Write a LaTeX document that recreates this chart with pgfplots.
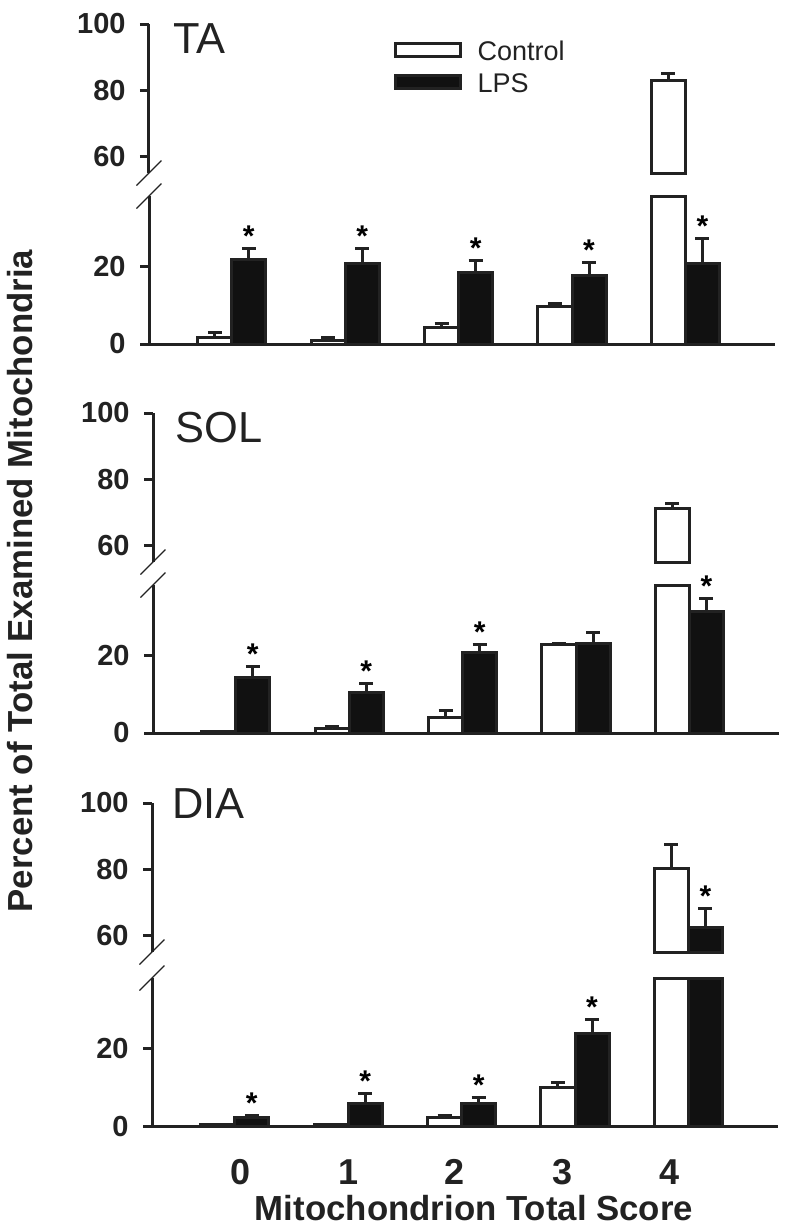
\documentclass[border=0pt]{standalone}
\usepackage{fontspec}
\setmainfont{Liberation Sans}
\usepackage{pgfplots}
\usepackage{pgfplotstable}
\pgfplotsset{compat=1.18}

\definecolor{axcol}{HTML}{222222}
\definecolor{lpsfill}{HTML}{111111}

% columns: score, control mean, control SEM, LPS mean, LPS SEM, star on LPS (1/0)
\pgfplotstableread{
x c    ce  l    le  s
0 1.8  1.2 21.8 2.6 1
1 1.0  0.8 20.8 3.6 1
2 4.2  1.1 18.3 3.2 1
3 9.6  0.8 17.5 3.5 1
4 83.0 2.1 20.8 6.2 1
}\ta
\pgfplotstableread{
x c    ce  l    le  s
0 0.3  0.0 14.3 2.8 1
1 1.2  0.4 10.4 2.3 1
2 3.9  1.8 20.8 1.8 1
3 22.6 0.3 23.1 2.6 0
4 71.2 1.5 31.2 3.3 1
}\sol
\pgfplotstableread{
x c    ce  l    le  s
0 0.3  0.0 2.3  0.5 1
1 0.3  0.0 5.9  2.5 1
2 2.3  0.3 5.9  1.5 1
3 10.0 1.3 23.8 3.6 1
4 80.3 7.2 62.4 5.6 1
}\dia

\pgfplotsset{
    brk/.style={
        scale only axis, width=313pt,
        xmin=-0.73, xmax=4.79,
        clip=false,
        axis line style={line width=1.5pt, draw=axcol},
        tick style={line width=1.5pt, draw=axcol},
        tick align=outside, major tick length=4.5pt,
        ytick pos=left,
        yticklabel style={font=\fontsize{14.5}{15}\selectfont\bfseries,
            text=axcol, inner sep=0pt, xshift=-7pt},
        /pgf/number format/assume math mode=true,
    },
    % lower part of a broken axis: 0..38
    lowax/.style={brk, height=74pt, ymin=0, ymax=38,
        axis x line*=bottom, axis y line*=left,
        ytick={0,20}, yticklabels={0,20}, xtick=\empty},
    % upper part: 55..100, stored shifted by -55
    upax/.style={brk, height=74.5pt, ymin=0, ymax=45,
        axis y line*=left, axis x line=none,
        ytick={5,25,45}, yticklabels={60,80,100}},
    ctrl/.style={ybar, bar width=0.3, bar shift=0,
        fill=white, draw=axcol, line width=1.5pt},
    lps/.style={ybar, bar width=0.3, bar shift=0,
        fill=lpsfill, draw=axcol, line width=1.5pt},
    ebar/.style={error bars/.cd, y dir=plus, y explicit,
        error bar style={line width=1.5pt, draw=axcol},
        error mark options={rotate=90, line width=1.5pt, mark size=3.5pt, draw=axcol}},
    star/.style={only marks, mark=none,
        nodes near coords={*},
        every node near coord/.style={anchor=base, inner sep=0pt, yshift=1pt,
            font=\fontsize{15}{15}\selectfont\bfseries, text=black}},
}

% bars, error bars and stars for each half (control at x-0.15, LPS at x+0.15)
\newcommand{\lowplots}[1]{
    \addplot[ctrl, y filter/.expression={min(y,38)}, ebar]
        table[x expr=\thisrow{x}-0.15, y=c,
              y error plus expr={\thisrow{c}>38 ? 0 : \thisrow{ce}}] {#1};
    \addplot[lps, y filter/.expression={min(y,38)}, ebar]
        table[x expr=\thisrow{x}+0.15, y=l,
              y error plus expr={\thisrow{l}>38 ? 0 : \thisrow{le}}] {#1};
    \addplot[star, restrict y to domain=0:38]
        table[x expr=\thisrow{x}+0.15,
              y expr={\thisrow{s}>0 ? \thisrow{l}+\thisrow{le} : -100}] {#1};
    \draw[line width=0.6pt, axcol] (rel axis cs:0,1) +(-6.25pt,-6.25pt) -- +(6.25pt,6.25pt);
}
\newcommand{\upplots}[1]{
    \addplot[ctrl, y filter/.expression={y-55}, restrict y to domain=0:100, ebar]
        table[x expr=\thisrow{x}-0.15, y=c, y error plus=ce] {#1};
    \addplot[lps, y filter/.expression={y-55}, restrict y to domain=0:100, ebar]
        table[x expr=\thisrow{x}+0.15, y=l, y error plus=le] {#1};
    \addplot[star, y filter/.expression={y-55}, restrict y to domain=0:100]
        table[x expr=\thisrow{x}+0.15,
              y expr={\thisrow{s}>0 ? \thisrow{l}+\thisrow{le} : -100}] {#1};
    \draw[line width=0.6pt, axcol] (rel axis cs:0,0) +(-6.25pt,-6.25pt) -- +(6.25pt,6.25pt);
}

\begin{document}
\begin{tikzpicture}
\useasboundingbox (0,0) rectangle (396.5pt,-614pt);

% ---- TA ----
\begin{axis}[upax, at={(74.5pt,-86.5pt)}, anchor=south west,
    legend style={at={(0.39,0.888)}, anchor=north west, draw=none, fill=none,
        inner sep=0pt, row sep=5pt, column sep=8pt,
        font=\fontsize{13.5}{14}\selectfont, text=axcol,
        nodes={inner sep=0pt}},
    legend cell align=left]
\addlegendimage{legend image code/.code={
    \draw[fill=white, draw=axcol, line width=1.5pt] (0pt,-2pt) rectangle (32.5pt,4.5pt);}}
\addlegendentry{Control}
\addlegendimage{legend image code/.code={
    \draw[fill=lpsfill, draw=axcol, line width=1.5pt] (0pt,-2pt) rectangle (32.5pt,4.5pt);}}
\addlegendentry{LPS}
\upplots{\ta}
\end{axis}
\begin{axis}[lowax, at={(74.5pt,-172pt)}, anchor=south west]
\lowplots{\ta}
\end{axis}

% ---- SOL ----
\begin{axis}[upax, at={(76.5pt,-281pt)}, anchor=south west]
\upplots{\sol}
\end{axis}
\begin{axis}[lowax, at={(76.5pt,-366.5pt)}, anchor=south west]
\lowplots{\sol}
\end{axis}

% ---- DIA ----
\begin{axis}[upax, at={(76pt,-476pt)}, anchor=south west]
\upplots{\dia}
\end{axis}
\begin{axis}[lowax, at={(76pt,-563pt)}, anchor=south west,
    xtick={0.05,1,1.94,2.89,3.83}, xticklabels={0,1,2,3,4},
    xtick style={draw=none},
    xticklabel style={font=\fontsize{18}{18}\selectfont\bfseries, text=axcol,
        inner sep=0pt, anchor=north, yshift=-12pt}]
\lowplots{\dia}
\end{axis}

% panel names
\node[anchor=base west, inner sep=0pt, font=\fontsize{21.7}{22}\selectfont, text=axcol]
    at (86.5pt,-26.5pt) {TA};
\node[anchor=base west, inner sep=0pt, font=\fontsize{21.7}{22}\selectfont, text=axcol]
    at (87.5pt,-221pt) {SOL};
\node[anchor=base west, inner sep=0pt, font=\fontsize{21.7}{22}\selectfont, text=axcol]
    at (86pt,-409pt) {DIA};

% axis titles
\node[rotate=90, anchor=center, inner sep=0pt,
      font=\fontsize{17.4}{18}\selectfont\bfseries, text=axcol]
    at (10pt,-290.5pt) {Percent of Total Examined Mitochondria};
\node[anchor=base, inner sep=0pt,
      font=\fontsize{17.4}{18}\selectfont\bfseries, text=axcol]
    at (237pt,-610pt) {Mitochondrion Total Score};
\end{tikzpicture}
\end{document}
